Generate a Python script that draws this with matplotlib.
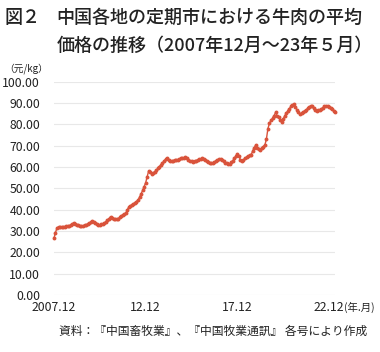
import matplotlib
matplotlib.use('Agg')
import matplotlib.pyplot as plt

plt.rcParams['font.family'] = ['Noto Sans CJK JP', 'DejaVu Sans']

# 2007.12 から 2023.5 までの月次価格（元/kg）
v2007 = [26.6]
v2008 = [29.2, 31.6, 31.8, 31.9, 32.0, 32.0, 32.1, 32.2, 32.3, 32.5, 32.7, 33.2]
v2009 = [33.9, 33.4, 32.9, 32.6, 32.4, 32.3, 32.5, 32.7, 32.9, 33.2, 33.6, 34.1]
v2010 = [34.7, 34.2, 33.6, 33.1, 32.9, 32.8, 33.1, 33.4, 33.8, 34.3, 35.0, 35.8]
v2011 = [36.7, 36.2, 35.8, 35.6, 35.5, 35.7, 36.4, 37.0, 37.6, 38.0, 38.3, 40.0]
v2012 = [41.2, 41.8, 42.3, 42.8, 43.2, 43.8, 44.6, 45.8, 47.4, 49.0, 50.8, 52.6]
v2013 = [55.5, 58.3, 57.5, 56.7, 57.2, 57.8, 58.4, 59.3, 60.2, 61.0, 61.8, 62.8]
v2014 = [63.6, 64.2, 63.3, 62.8, 62.9, 63.0, 63.2, 63.3, 63.5, 63.7, 64.0, 64.2]
v2015 = [64.4, 64.5, 64.0, 63.3, 62.8, 62.6, 62.5, 62.7, 63.0, 63.3, 63.6, 63.8]
v2016 = [64.0, 63.6, 63.1, 62.7, 62.2, 61.9, 61.7, 61.9, 62.3, 62.8, 63.3, 63.7]
v2017 = [63.8, 63.2, 62.6, 62.0, 61.7, 61.4, 61.6, 62.2, 63.0, 64.0, 65.1, 66.1]
v2018 = [65.0, 63.5, 63.0, 63.4, 64.0, 64.6, 65.1, 65.6, 65.6, 67.5, 69.0, 70.3]
v2019 = [69.0, 68.2, 68.0, 68.8, 69.6, 70.3, 73.0, 78.0, 80.5, 81.8, 82.8, 84.0]
v2020 = [85.6, 84.0, 83.3, 82.2, 81.3, 82.5, 84.0, 85.2, 86.2, 87.3, 88.4, 89.0]
v2021 = [89.4, 88.2, 86.8, 85.6, 84.7, 85.2, 85.8, 86.3, 86.7, 87.5, 88.2, 88.6]
v2022 = [88.75, 87.8, 86.9, 86.4, 86.6, 86.9, 87.3, 87.8, 88.4, 88.75, 88.6, 88.2]
v2023 = [87.5, 87.0, 86.3, 85.6]

prices = (v2007 + v2008 + v2009 + v2010 + v2011 + v2012 + v2013 + v2014
          + v2015 + v2016 + v2017 + v2018 + v2019 + v2020 + v2021 + v2022 + v2023)

xtick_pos = [0, 60, 120, 180]
xtick_labels = ['2007.12', '12.12', '17.12', '22.12']
yticks = [0, 10, 20, 30, 40, 50, 60, 70, 80, 90, 100]

fig = plt.figure(figsize=(3.8, 3.52), dpi=100)
ax = fig.add_axes([0.142, 0.162, 0.74, 0.606])

ax.plot(range(len(prices)), prices, color='#d9533b', lw=1, marker='o',
        markersize=2.8, markeredgewidth=0, clip_on=False, zorder=3)

ax.set_ylim(0, 100)
ax.set_xlim(0, len(prices) - 1)
ax.set_yticks(yticks)
ax.set_yticklabels(['%.2f' % y for y in yticks])
ax.set_xticks(xtick_pos)
ax.set_xticklabels(xtick_labels)
ax.tick_params(length=0, labelsize=8.8, colors='#222222')
ax.tick_params(axis='y', pad=10)
ax.tick_params(axis='x', pad=4)
ax.grid(axis='y', color='#e8e8e8', lw=0.8)
for s in ax.spines.values():
    s.set_visible(False)

fig.text(0.012, 0.975, '図２', fontsize=13, fontweight='medium', va='top', color='#222222')
fig.text(0.148, 0.975, '中国各地の定期市における牛肉の平均', fontsize=13,
         fontweight='medium', va='top', color='#222222')
fig.text(0.148, 0.895, '価格の推移（2007年12月～23年５月）', fontsize=13,
         fontweight='medium', va='top', color='#222222')
fig.text(0.012, 0.805, '（元/kg）', fontsize=7, va='center', color='#222222')
fig.text(0.905, 0.128, '(年.月)', fontsize=7.5, va='center', color='#222222')
fig.text(0.56, 0.06, '資料：『中国畜牧業』、『中国牧業通訊』 各号により作成',
         fontsize=8.5, ha='center', va='center', color='#222222')

fig.savefig('out.png', dpi=100)
